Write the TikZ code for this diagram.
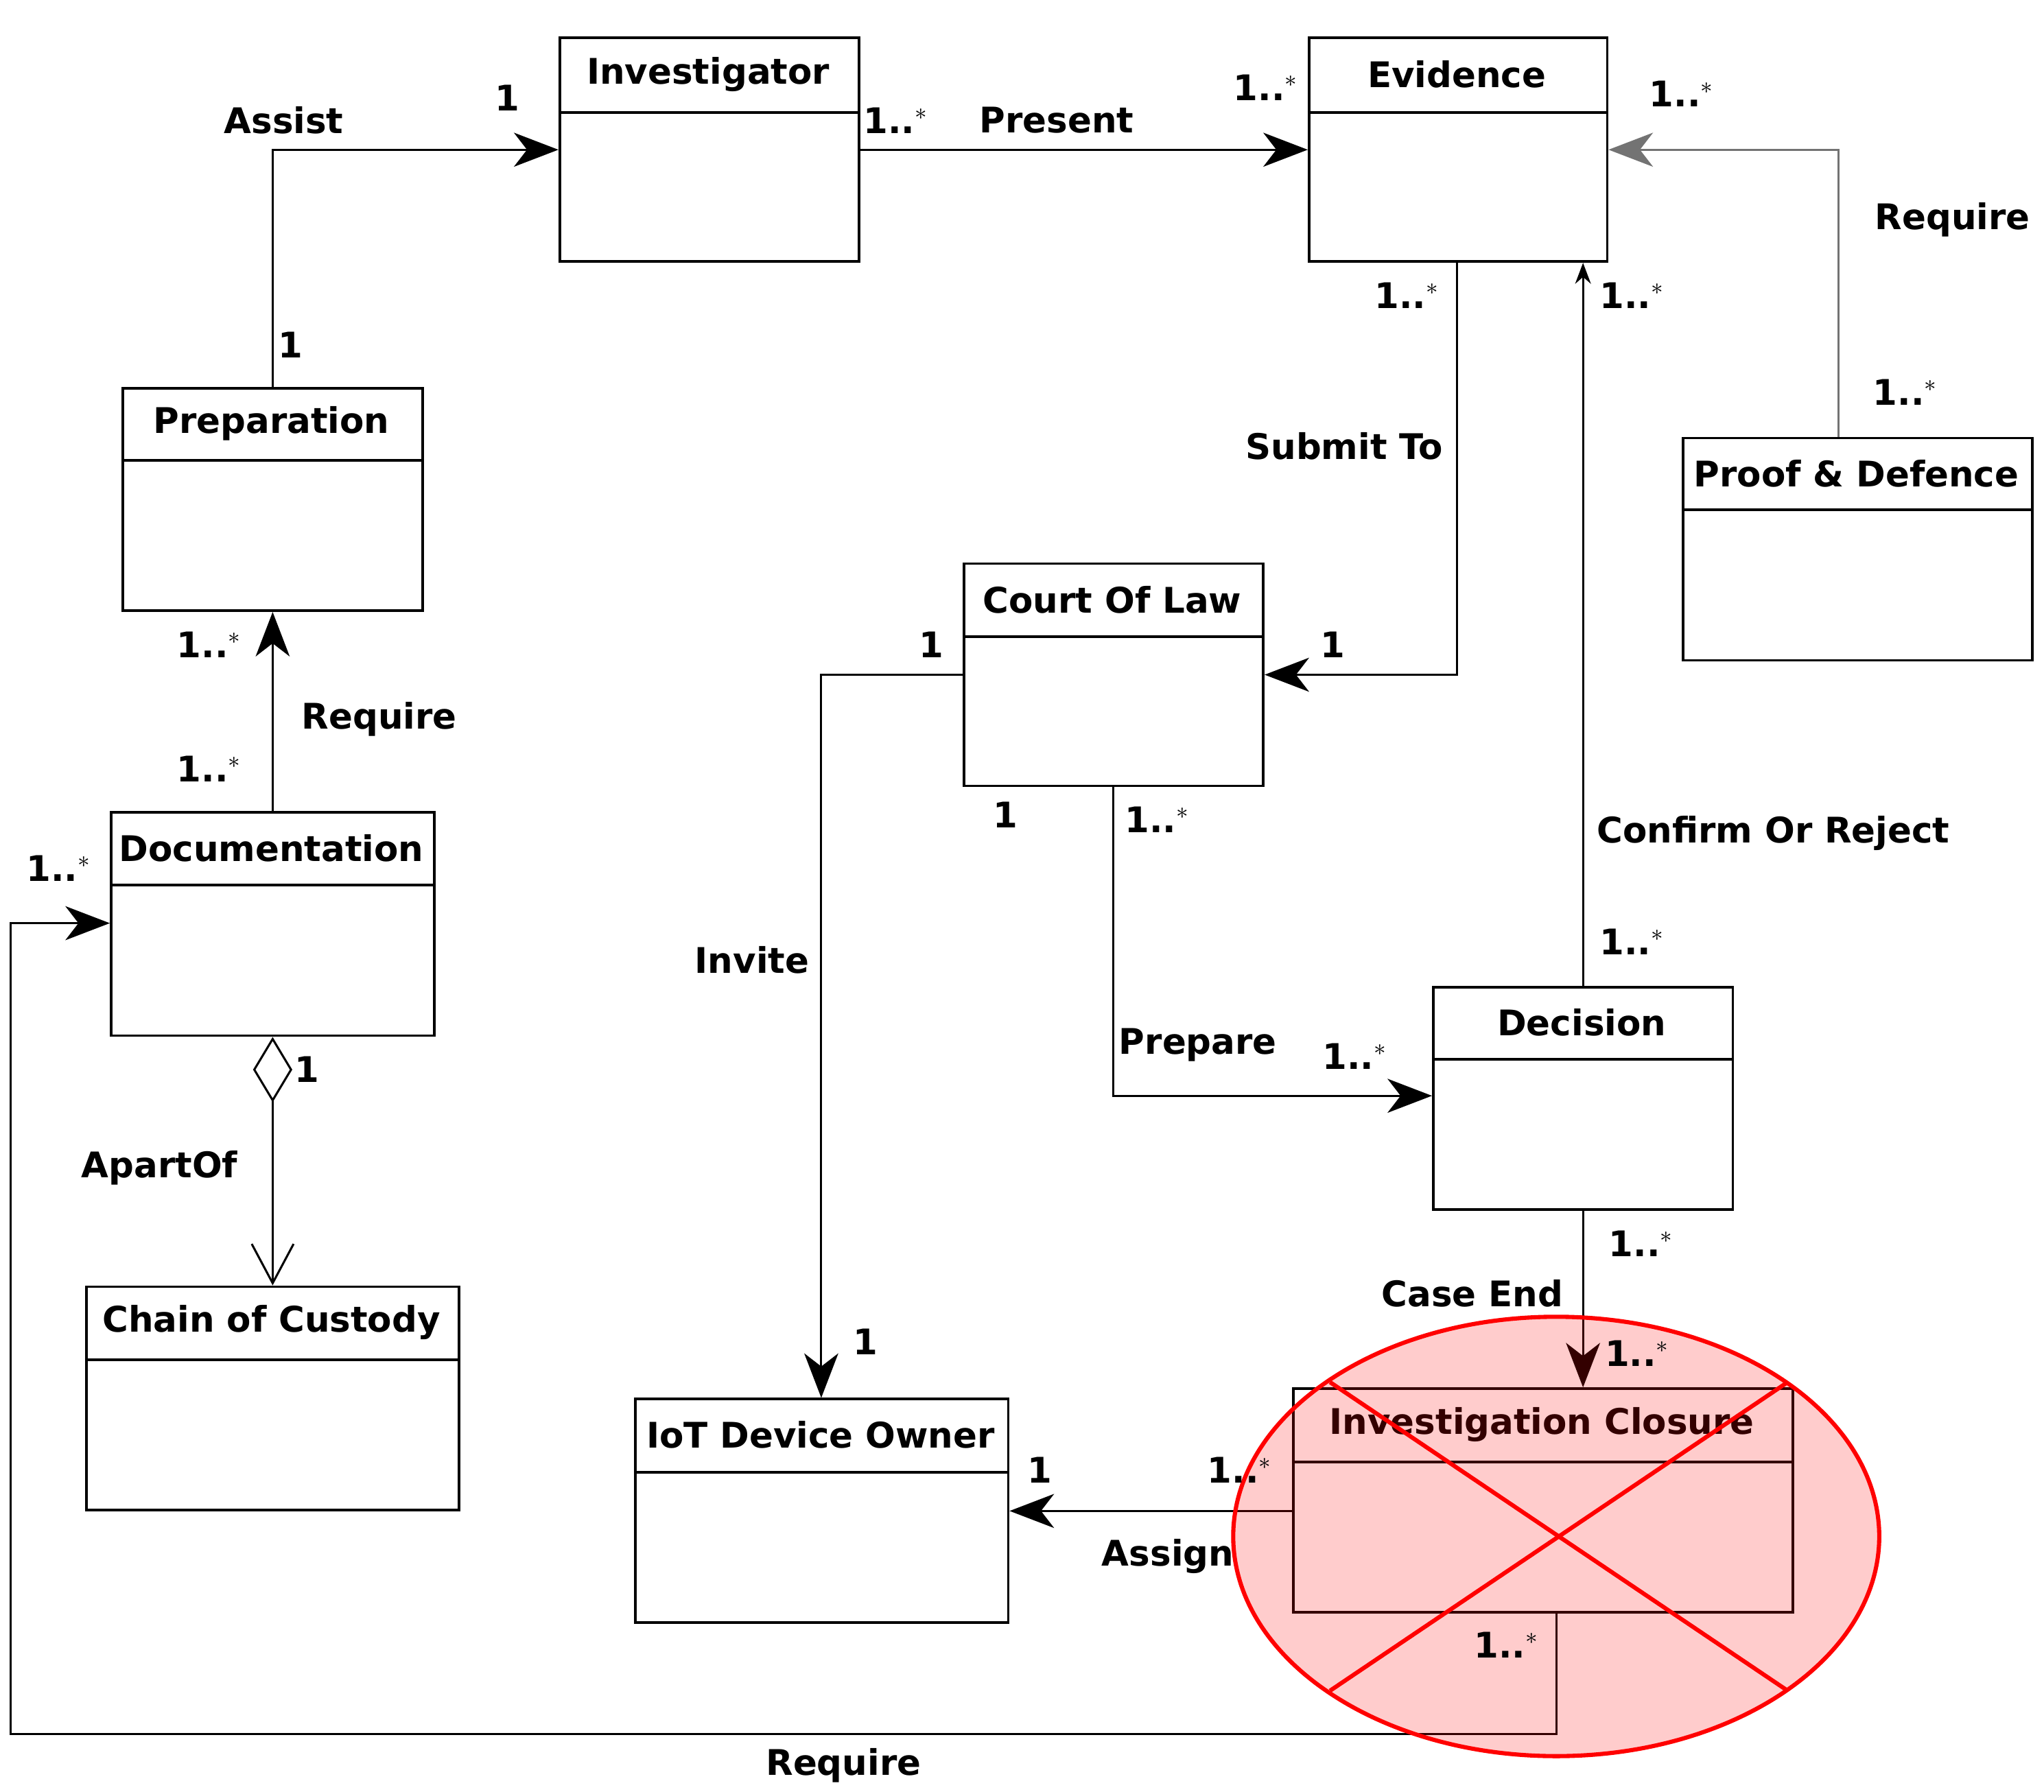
\documentclass[tikz,border=0pt]{standalone}
\usepackage{fontspec}
\setmainfont{DejaVu Sans}
\usetikzlibrary{arrows.meta,shapes.geometric}
\tikzstyle{myclassstyle}=[
    x=0.5pt, y=0.5pt,
    line width=1pt,
    >={Stealth[length=17pt,width=13pt,inset=5pt]},
    font=\fontsize{13.5}{16}\selectfont\bfseries,
    every node/.style={inner sep=1pt},
]
\tikzstyle{cls}=[draw, inner sep=0pt, line width=1pt]
\tikzstyle{link}=[->, line width=0.8pt]
% name, x1, y1, x2, y2, header line, title
\newcommand{\umlclass}[7]{%
    \node[cls, anchor=north west, minimum width={(#4-#2)*0.5pt}, minimum height={(#5-#3)*0.5pt}] (#1) at (#2,-#3) {};
    \draw (#2,-#6) -- (#4,-#6);
    \node (#1-t) at ({(#2+#4)/2},{-(#3+#6)/2}) {#7};
}
\newcommand{\many}{1..$^{*}$}

\begin{document}
\begin{tikzpicture}[myclassstyle]
    \useasboundingbox (0,0) rectangle (1563,-1370);
    \umlclass{inv}{427}{28}{656}{199}{86}{Investigator}
    \umlclass{evi}{1000}{28}{1228}{199}{86}{Evidence}
    \umlclass{prep}{93}{296}{322}{466}{352}{Preparation}
    \umlclass{proof}{1286}{334}{1553}{504}{390}{Proof \& Defence}
    \umlclass{court}{736}{430}{965}{600}{487}{Court Of Law}
    \umlclass{doc}{84}{620}{331}{791}{677}{Documentation}
    \umlclass{dec}{1095}{754}{1324}{924}{810}{Decision}
    \umlclass{coc}{65}{983}{350}{1154}{1040}{Chain of Custody}
    \umlclass{iot}{485}{1069}{770}{1240}{1126}{IoT Device Owner}
    \umlclass{clo}{988}{1061}{1370}{1232}{1118}{Investigation Closure}

    \coordinate (cb) at (1406,-114);
    \coordinate (cc) at (1114,-515);
    \coordinate (cd) at (628,-515);
    \coordinate (ce) at (851,-838);
    \coordinate (cf) at (1190,-1326);
    \coordinate (cg) at (8,-1326);
    \coordinate (ch) at (8,-706);

    \draw[link] (prep.north) |- (inv.west);
    \draw[link] (inv.east) -- (evi.west);
    \draw[link, black!55] (proof.north -| cb) |- (evi.east);
    \draw[link] (evi.south -| cc) |- (court.east);
    \draw[line width=0.8pt, -{Stealth[length=8pt,width=6pt]}] (dec.north) -- (dec.north |- evi.south);
    \draw[link] (doc.north) -- (prep.south);
    \draw[link] (court.west) -| (iot.north -| cd);
    \draw[link] (court.south) |- (dec.west |- ce);
    \draw[link] (dec.south) -- (dec.south |- clo.north);
    \draw[link] (clo.west |- iot.east) -- (iot.east);
    \draw[link] (clo.south -| cf) -- (cf) -- (cg) -- (ch) -- (doc.west |- ch);
    \draw[line width=0.8pt, {Diamond[open,length=25pt,width=15pt]}-{Straight Barb[length=15pt,width=16pt]}] (doc.south) -- (coc.north);

    % closure crossed out
    \node[draw=red, line width=1.6pt, fill=red, fill opacity=0.2, ellipse, minimum width=494*0.5pt, minimum height=336*0.5pt, inner sep=0pt] (cross) at (1190,-1175) {};
    \draw[red, line width=1.6pt] (1017,-1057) -- (1367,-1293);
    \draw[red, line width=1.6pt] (1367,-1057) -- (1017,-1293);

    % labels
    \node at (217,-92) {Assist};
    \node at (388,-75) {1};
    \node at (222,-264) {1};
    \node at (685,-92) {\many};
    \node at (808,-92) {Present};
    \node at (968,-67) {\many};
    \node at (1286,-72) {\many};
    \node at (1493,-168) {Require};
    \node at (1457,-300) {\many};
    \node at (1076,-226) {\many};
    \node at (1028,-341) {Submit To};
    \node at (1019,-493) {1};
    \node at (1248,-226) {\many};
    \node at (1356,-637) {Confirm Or Reject};
    \node at (1248,-720) {\many};
    \node at (160,-493) {\many};
    \node at (290,-550) {Require};
    \node at (160,-588) {\many};
    \node at (712,-493) {1};
    \node at (575,-734) {Invite};
    \node at (662,-1026) {1};
    \node at (769,-623) {1};
    \node at (885,-627) {\many};
    \node at (916,-799) {Prepare};
    \node at (1036,-808) {\many};
    \node at (1255,-951) {\many};
    \node at (1126,-989) {Case End};
    \node at (1252,-1035) {\many};
    \node at (795,-1124) {1};
    \node at (948,-1124) {\many};
    \node at (893,-1190) {Assign};
    \node at (1152,-1258) {\many};
    \node at (645,-1350) {Require};
    \node at (45,-664) {\many};
    \node at (235,-818) {1};
    \node at (122,-893) {ApartOf};
\end{tikzpicture}
\end{document}
